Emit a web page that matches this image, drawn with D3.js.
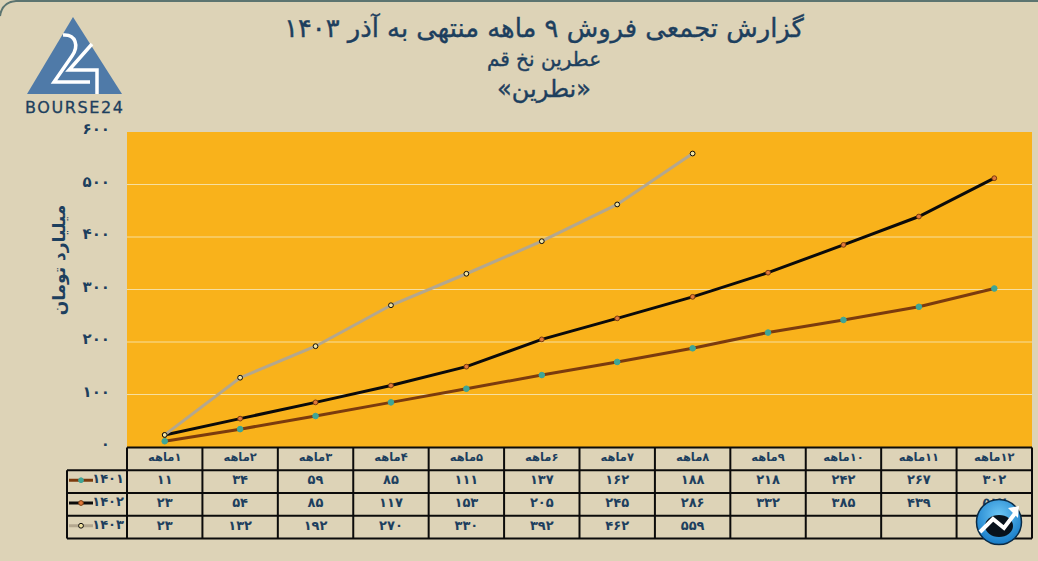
<!DOCTYPE html>
<html>
<head>
<meta charset="utf-8">
<script src="https://cdn.jsdelivr.net/npm/d3@7"></script>
<style>
  html, body { margin: 0; padding: 0; background: #ddd3b7; }
  svg { display: block; }
  text { font-family: "DejaVu Sans", sans-serif; fill: #1d3f5e; }
  .cell { font-weight: bold; font-size: 13px; }
  .title { stroke: #1d3f5e; stroke-width: 0.4px; }
</style>
</head>
<body>
<div id="chart"></div>
<script>
var months = ["۱ماهه", "۲ماهه", "۳ماهه", "۴ماهه", "۵ماهه", "۶ماهه", "۷ماهه", "۸ماهه", "۹ماهه", "۱۰ماهه", "۱۱ماهه", "۱۲ماهه"];
var years = ["1401", "1402", "1403"];
var sales1401 = [11, 34, 59, 85, 111, 137, 162, 188, 218, 242, 267, 302];
var sales1402 = [23, 54, 85, 117, 153, 205, 245, 286, 332, 385, 439, 512];
var sales1403 = [23, 132, 192, 270, 330, 392, 462, 559];
var yTicks = [0, 100, 200, 300, 400, 500, 600];
var titleLines = ["گزارش تجمعی فروش ۹ ماهه منتهی به آذر ۱۴۰۳", "عطرین نخ قم", "«نطرین»"];
var yLabel = "میلیارد تومان";
var seriesColors = ["#7b3b0e", "#0b0b0b", "#b3a78f"];
var markerFills = ["#3fa596", "#e0783a", "#f3e3a0"];
var markerStrokes = ["#3fa596", "#7b3b0e", "#0b0b0b"];

var seriesData = [sales1401, sales1402, sales1403];

// western digits -> persian digits
function fa(v) {
  return String(v).replace(/[0-9]/g, function(c) { return "۰۱۲۳۴۵۶۷۸۹"[+c]; });
}

var width = 1038, height = 561;
var plot = {left: 127, right: 1032, top: 132, bottom: 447};

var svg = d3.select("#chart").append("svg")
    .attr("width", width)
    .attr("height", height);

svg.append("rect")
    .attr("width", width).attr("height", height)
    .attr("fill", "#ddd3b7");

// frame line at the top with the rounded corner
svg.append("path")
    .attr("d", "M0,16 Q2,2 16,1 L1038,1")
    .attr("fill", "none")
    .attr("stroke", "#5c7470")
    .attr("stroke-width", 2);

// titles
svg.selectAll(".title")
    .data(titleLines)
  .enter().append("text")
    .attr("class", "title")
    .attr("x", 544)
    .attr("y", function(d, i) { return [37, 66, 97][i]; })
    .attr("text-anchor", "middle")
    .attr("direction", "rtl")
    .style("font-size", function(d, i) { return [25.8, 20, 24][i] + "px"; })
    .text(function(d) { return d; });

// logo
var logo = svg.append("g");
logo.append("path").attr("d", "M73,17L122,94L27,94Z").attr("fill", "#4f7aa8");
logo.append("path")
    .attr("d", "M63,35C76,34 79,46 72,56L54,82L90,82")
    .attr("fill", "none").attr("stroke", "#fff").attr("stroke-width", 3.5);
logo.append("path")
    .attr("d", "M92,44L69,70L97,70L97,94")
    .attr("fill", "none").attr("stroke", "#fff").attr("stroke-width", 3.5);
logo.append("text")
    .attr("x", 74).attr("y", 113)
    .attr("text-anchor", "middle")
    .attr("textLength", 98)
    .style("font-size", "16px")
    .style("stroke", "#1d3f5e")
    .style("stroke-width", "0.3px")
    .text("BOURSE24");

// plot
var x = d3.scaleBand().domain(d3.range(months.length)).range([plot.left, plot.right]);
var y = d3.scaleLinear().domain([0, 600]).range([447, 132]);

svg.append("rect")
    .attr("x", plot.left).attr("y", plot.top)
    .attr("width", plot.right - plot.left).attr("height", plot.bottom - plot.top)
    .attr("fill", "#f9b21b");

var yAxis = d3.axisLeft(y)
    .tickValues(yTicks)
    .tickSize(0)
    .tickFormat(fa);

var yG = svg.append("g")
    .attr("transform", "translate(" + plot.left + ",0)")
    .call(yAxis);
yG.select(".domain").remove();
yG.selectAll("text")
    .attr("x", -17)
    .attr("dy", "0.1em")
    .style("font-size", "15px")
    .style("font-weight", "bold")
    .style("font-family", '"DejaVu Sans", sans-serif')
    .attr("fill", "#1d3f5e");

svg.append("g").selectAll("line")
    .data(yTicks.slice(1, -1))
  .enter().append("line")
    .attr("x1", plot.left).attr("x2", plot.right)
    .attr("y1", y).attr("y2", y)
    .attr("stroke", "#f6dfa0")
    .attr("stroke-width", 1);

svg.append("text")
    .attr("transform", "translate(65,260) rotate(-90)")
    .attr("text-anchor", "middle")
    .attr("direction", "rtl")
    .style("font-size", "17px")
    .style("font-weight", "bold")
    .text(yLabel);

var line = d3.line()
    .x(function(d, i) { return x(i) + x.bandwidth() / 2; })
    .y(function(d) { return y(d); });

seriesData.forEach(function(values, s) {
  svg.append("path")
      .datum(values)
      .attr("d", line)
      .attr("fill", "none")
      .attr("stroke", seriesColors[s])
      .attr("stroke-width", 3);
  svg.append("g").selectAll("circle")
      .data(values)
    .enter().append("circle")
      .attr("cx", function(d, i) { return x(i) + x.bandwidth() / 2; })
      .attr("cy", function(d) { return y(d); })
      .attr("r", s === 0 ? 2.8 : 2.4)
      .attr("fill", markerFills[s])
      .attr("stroke", markerStrokes[s])
      .attr("stroke-width", 1);
});

// data table
var rowY = d3.scalePoint().domain(d3.range(5)).range([447.5, 538.5]);
var legendLeft = 67;
var grid = svg.append("g").attr("stroke", "#0b0b0b").attr("stroke-width", 2);
d3.range(5).forEach(function(r) {
  grid.append("line")
      .attr("x1", r === 0 ? plot.left : legendLeft).attr("x2", plot.right)
      .attr("y1", rowY(r)).attr("y2", rowY(r));
});
d3.range(months.length + 1).forEach(function(c) {
  var cx = c === months.length ? plot.right : x(c);
  grid.append("line")
      .attr("x1", cx).attr("x2", cx)
      .attr("y1", rowY(0)).attr("y2", rowY(4));
});
grid.append("line")
    .attr("x1", legendLeft).attr("x2", legendLeft)
    .attr("y1", rowY(1)).attr("y2", rowY(4));

svg.append("g").selectAll("text")
    .data(months)
  .enter().append("text")
    .attr("class", "cell")
    .attr("x", function(d, i) { return x(i) + x.bandwidth() / 2; })
    .attr("y", rowY(0) + 13)
    .attr("text-anchor", "middle")
    .attr("direction", "rtl")
    .style("font-size", "11.5px")
    .text(function(d) { return d; });

seriesData.forEach(function(values, s) {
  var rowTop = rowY(s + 1);
  svg.append("g").selectAll("text")
      .data(values)
    .enter().append("text")
      .attr("class", "cell")
      .attr("x", function(d, i) { return x(i) + x.bandwidth() / 2; })
      .attr("y", rowTop + 14)
      .attr("text-anchor", "middle")
      .text(fa);

  // legend key in the first column
  svg.append("line")
      .attr("x1", 69).attr("x2", 93)
      .attr("y1", rowTop + 10).attr("y2", rowTop + 10)
      .attr("stroke", seriesColors[s])
      .attr("stroke-width", 3);
  svg.append("circle")
      .attr("cx", 81).attr("cy", rowTop + 10).attr("r", 2.4)
      .attr("fill", markerFills[s])
      .attr("stroke", markerStrokes[s]);
  svg.append("text")
      .attr("class", "cell")
      .attr("x", 124).attr("y", rowTop + 13)
      .attr("text-anchor", "end")
      .text(fa(years[s]));
});

// badge over the last column
var badgeGrad = svg.append("defs").append("radialGradient")
    .attr("id", "badgeFill")
    .attr("cx", "50%").attr("cy", "35%").attr("r", "70%");
badgeGrad.append("stop").attr("offset", "0%").attr("stop-color", "#6cc6f5");
badgeGrad.append("stop").attr("offset", "100%").attr("stop-color", "#0f75c4");
var badge = svg.append("g").attr("transform", "translate(999,522)");
badge.append("circle").attr("r", 22.5)
    .attr("fill", "url(#badgeFill)")
    .attr("stroke", "#0a2a45").attr("stroke-width", 1.5);
badge.append("ellipse").attr("cx", 0).attr("cy", 4).attr("rx", 14).attr("ry", 11).attr("fill", "#08121c");
badge.append("path")
    .attr("d", "M-19,10L-6,-3L5,6L17,-10")
    .attr("fill", "none").attr("stroke", "#fff").attr("stroke-width", 4);
badge.append("path").attr("d", "M9,-14L20,-16L19,-4Z").attr("fill", "#fff");
</script>
</body>
</html>
